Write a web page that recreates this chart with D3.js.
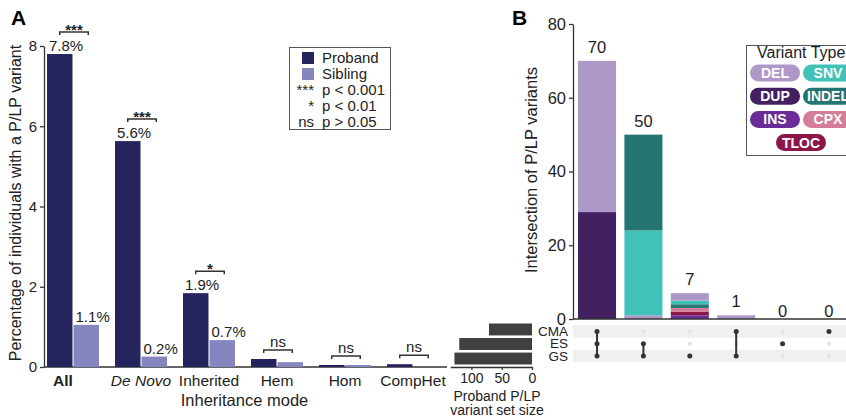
<!DOCTYPE html>
<html>
<head>
<meta charset="utf-8">
<script src="https://cdn.jsdelivr.net/npm/d3@7"></script>
<style>
  body { margin: 0; background: #fff; }
  svg { display: block; font-family: 'Liberation Sans', Arial, sans-serif; }
</style>
</head>
<body>
<script>
// panel A data
const modes = ['All', 'De Novo', 'Inherited', 'Hem', 'Hom', 'CompHet']
const probandPct = [7.8, 5.63, 1.84, 0.2, 0.05, 0.07]
const siblingPct = [1.05, 0.26, 0.67, 0.12, 0.05, 0]
const probandLabels = ['7.8%', '5.6%', '1.9%', '', '', '']
const siblingLabels = ['1.1%', '0.2%', '0.7%', '', '', '']
const signif = ['***', '***', '*', 'ns', 'ns', 'ns']
const pctTicks = [0, 2, 4, 6, 8]
const sigLegend = [['***', 'p < 0.001'], ['*', 'p < 0.01'], ['ns', 'p > 0.05']]

// panel B data
const sets = ['CMA', 'ES', 'GS']
const setSizes = [71, 120, 128]
const setSizeTicks = [0, 50, 100]
const intersections = [['CMA', 'ES', 'GS'], ['ES', 'GS'], ['GS'], ['CMA', 'GS'], ['ES'], ['CMA']]
const stackTypes = [['DUP', 'DEL'], ['DEL', 'SNV', 'INDEL'], ['INS', 'TLOC', 'CPX', 'INDEL', 'SNV', 'DEL'], ['DEL'], [], []]
const stackCounts = [[29, 41], [1, 23, 26], [1, 1, 1, 1, 1, 2], [1], [], []]
const countTicks = [0, 20, 40, 60, 80]

const variantTypes = ['DEL', 'SNV', 'DUP', 'INDEL', 'INS', 'CPX', 'TLOC']
const variantColors = ['#ae98c8', '#41c2b9', '#43205f', '#257572', '#6b2c97', '#d47c99', '#8b1649']

const width = 846
const height = 419
const ink = '#222'
const axisColor = '#333'

const svg = d3.select('body').append('svg')
  .attr('width', width)
  .attr('height', height)

const styleAxis = (g, size) => g
  .attr('font-family', null)
  .attr('font-size', size)
  .call(g => g.selectAll('path, line').attr('stroke', axisColor).attr('stroke-width', 1.3))
  .call(g => g.selectAll('text').attr('fill', ink))

// ---------- Panel A ----------
const xA = d3.scaleBand()
  .domain(modes)
  .range([43.6, 442.4])
  .paddingInner(0.235)
  .paddingOuter(0.05)

const xSub = d3.scaleBand()
  .domain(['proband', 'sibling'])
  .range([0, xA.bandwidth()])
  .paddingInner(0.04)

const yA = d3.scaleLinear()
  .domain([0, 8])
  .range([367, 46])

const groupColor = d3.scaleOrdinal()
  .domain(['proband', 'sibling'])
  .range(['#26245d', '#8585c0'])

const rowsA = modes.map((m, i) => ({
  mode: m,
  bars: [
    { key: 'proband', value: probandPct[i], label: probandLabels[i] },
    { key: 'sibling', value: siblingPct[i], label: siblingLabels[i] },
  ],
  sig: signif[i],
}))

svg.append('g')
  .attr('transform', 'translate(44,0)')
  .call(d3.axisLeft(yA).tickValues(pctTicks).tickSize(4).tickSizeOuter(0))
  .call(g => styleAxis(g, 15))

svg.append('g')
  .attr('transform', `translate(0,${yA(0)})`)
  .call(d3.axisBottom(xA).tickSize(0).tickPadding(8))
  .call(g => styleAxis(g, 15.5))
  .call(g => g.select('.domain').remove())
  .call(g => g.selectAll('.tick text')
    .attr('font-weight', d => (d === 'All' ? 'bold' : null))
    .attr('font-style', d => (d === 'De Novo' ? 'italic' : null))
    .attr('dx', d => (d === 'All' ? -10 : 0)))

svg.append('line')
  .attr('x1', 44)
  .attr('x2', 447)
  .attr('y1', yA(0))
  .attr('y2', yA(0))
  .attr('stroke', axisColor)
  .attr('stroke-width', 1.3)

const grp = svg.append('g')
  .selectAll('g')
  .data(rowsA)
  .join('g')
  .attr('transform', d => `translate(${xA(d.mode)},0)`)

grp.selectAll('rect')
  .data(d => d.bars)
  .join('rect')
  .attr('x', d => xSub(d.key))
  .attr('y', d => yA(d.value))
  .attr('width', xSub.bandwidth())
  .attr('height', d => yA(0) - yA(d.value))
  .attr('fill', d => groupColor(d.key))

grp.selectAll('text.pct')
  .data(d => d.bars.filter(b => b.label))
  .join('text')
  .attr('class', 'pct')
  .attr('x', d => xSub(d.key) + 2)
  .attr('y', d => yA(d.value) - 3)
  .attr('font-size', 15)
  .attr('fill', ink)
  .text(d => d.label)

// significance brackets
grp.each((d, i, nodes) => {
  const g = d3.select(nodes[i])
  const x1 = xSub('proband') + xSub.bandwidth() / 2
  const x2 = xSub('sibling') + xSub.bandwidth() / 2 + 2
  const labelled = d.bars.some(b => b.label)
  const top = yA(d3.max(d.bars, b => b.value)) - (labelled ? 22 : 9)
  g.append('path')
    .attr('d', `M${x1},${top + 3}V${top}H${x2}V${top + 3}`)
    .attr('fill', 'none')
    .attr('stroke', axisColor)
    .attr('stroke-width', 1.5)
  g.append('text')
    .attr('x', (x1 + x2) / 2)
    .attr('y', d.sig === 'ns' ? top - 3 : top + 3)
    .attr('text-anchor', 'middle')
    .attr('font-size', 15)
    .attr('font-weight', d.sig === 'ns' ? null : 'bold')
    .attr('fill', ink)
    .text(d.sig)
})

svg.append('text')
  .attr('transform', 'translate(21,203) rotate(-90)')
  .attr('text-anchor', 'middle')
  .attr('font-size', 16)
  .attr('fill', ink)
  .text('Percentage of individuals with a P/LP variant')

svg.append('text')
  .attr('x', 244.5)
  .attr('y', 406)
  .attr('text-anchor', 'middle')
  .attr('font-size', 16.5)
  .attr('fill', ink)
  .text('Inheritance mode')

// Legend A
const legA = svg.append('g')
legA.append('rect')
  .attr('x', 289.5)
  .attr('y', 47.5)
  .attr('width', 101)
  .attr('height', 82)
  .attr('fill', 'white')
  .attr('stroke', '#555')

legA.selectAll('rect.key')
  .data(groupColor.domain())
  .join('rect')
  .attr('class', 'key')
  .attr('x', 302)
  .attr('y', (d, i) => 52 + i * 16)
  .attr('width', 12)
  .attr('height', 12)
  .attr('fill', d => groupColor(d))

legA.selectAll('text.key')
  .data(['Proband', 'Sibling'])
  .join('text')
  .attr('class', 'key')
  .attr('x', 322)
  .attr('y', (d, i) => 63 + i * 16)
  .attr('font-size', 15)
  .attr('fill', ink)
  .text(d => d)

const sigRow = legA.selectAll('g.sig')
  .data(sigLegend)
  .join('g')
  .attr('class', 'sig')
  .attr('transform', (d, i) => `translate(0,${95 + i * 16})`)

sigRow.append('text')
  .attr('x', 314)
  .attr('text-anchor', 'end')
  .attr('font-size', 15)
  .attr('fill', ink)
  .text(d => d[0])

sigRow.append('text')
  .attr('x', 322)
  .attr('font-size', 15)
  .attr('fill', ink)
  .text(d => d[1])

svg.append('text')
  .attr('x', 11)
  .attr('y', 25)
  .attr('font-size', 21)
  .attr('font-weight', 'bold')
  .text('A')

// ---------- Panel B ----------
const xB = d3.scaleBand()
  .domain(d3.range(intersections.length))
  .range([573, 853])
  .paddingInner(0.18)
  .paddingOuter(0.108)

const yB = d3.scaleLinear()
  .domain([0, 80])
  .range([319, 24])

const typeColor = d3.scaleOrdinal()
  .domain(variantTypes)
  .range(variantColors)

const cols = intersections.map((s, i) => {
  let acc = 0
  const segs = stackTypes[i].map((t, j) => {
    const y0 = acc
    acc += stackCounts[i][j]
    return { type: t, y0, y1: acc }
  })
  return { i, sets: s, segs, total: acc }
})

svg.append('g')
  .attr('transform', 'translate(573,0)')
  .call(d3.axisLeft(yB).tickValues(countTicks).tickSize(4).tickSizeOuter(0))
  .call(g => styleAxis(g, 16.5))

const colG = svg.append('g')
  .selectAll('g')
  .data(cols)
  .join('g')
  .attr('transform', d => `translate(${xB(d.i)},0)`)

colG.selectAll('rect')
  .data(d => d.segs)
  .join('rect')
  .attr('x', 0)
  .attr('y', d => yB(d.y1))
  .attr('width', xB.bandwidth())
  .attr('height', d => yB(d.y0) - yB(d.y1))
  .attr('fill', d => typeColor(d.type))

colG.append('text')
  .attr('x', xB.bandwidth() / 2)
  .attr('y', d => (d.total > 0 ? yB(d.total) - 8 : yB(0) - 2))
  .attr('text-anchor', 'middle')
  .attr('font-size', 16.5)
  .attr('fill', ink)
  .text(d => d.total)

svg.append('line')
  .attr('x1', 573)
  .attr('x2', 846)
  .attr('y1', yB(0))
  .attr('y2', yB(0))
  .attr('stroke', axisColor)
  .attr('stroke-width', 1.3)

svg.append('text')
  .attr('transform', 'translate(537,170) rotate(-90)')
  .attr('text-anchor', 'middle')
  .attr('font-size', 16.5)
  .attr('fill', ink)
  .text('Intersection of P/LP variants')

svg.append('text')
  .attr('x', 512)
  .attr('y', 25)
  .attr('font-size', 21)
  .attr('font-weight', 'bold')
  .text('B')

// matrix
const rowY = d3.scalePoint()
  .domain(sets)
  .range([331.5, 356])

svg.append('g')
  .selectAll('rect')
  .data(sets.filter((s, i) => i % 2 === 0))
  .join('rect')
  .attr('x', 573)
  .attr('y', d => rowY(d) - 6.3)
  .attr('width', 273)
  .attr('height', 12.6)
  .attr('fill', '#f0f0f1')

svg.append('g')
  .selectAll('text')
  .data(sets)
  .join('text')
  .attr('x', 568)
  .attr('y', d => rowY(d))
  .attr('dy', '0.35em')
  .attr('text-anchor', 'end')
  .attr('font-size', 13.5)
  .attr('fill', ink)
  .text(d => d)

const mat = svg.append('g')
  .selectAll('g')
  .data(cols)
  .join('g')
  .attr('transform', d => `translate(${xB(d.i) + xB.bandwidth() / 2},0)`)

mat.selectAll('circle.off')
  .data(d => sets.filter(s => !d.sets.includes(s)))
  .join('circle')
  .attr('class', 'off')
  .attr('cy', d => rowY(d))
  .attr('r', 2.1)
  .attr('fill', '#e2e2e2')

mat.filter(d => d.sets.length > 1)
  .append('line')
  .attr('y1', d => d3.min(d.sets, s => rowY(s)))
  .attr('y2', d => d3.max(d.sets, s => rowY(s)))
  .attr('stroke', '#333')
  .attr('stroke-width', 2)

mat.selectAll('circle.on')
  .data(d => d.sets)
  .join('circle')
  .attr('class', 'on')
  .attr('cy', d => rowY(d))
  .attr('r', 2.5)
  .attr('fill', '#333')

// set sizes
const xS = d3.scaleLinear()
  .domain([0, 135])
  .range([532, 450.2])

const yS = d3.scaleBand()
  .domain(sets)
  .range([323.5, 364.5])
  .paddingInner(0.18)

svg.append('g')
  .selectAll('rect')
  .data(sets)
  .join('rect')
  .attr('x', (d, i) => xS(setSizes[i]))
  .attr('y', d => yS(d))
  .attr('width', (d, i) => xS(0) - xS(setSizes[i]))
  .attr('height', yS.bandwidth())
  .attr('fill', '#404040')

svg.append('g')
  .attr('transform', 'translate(0,367)')
  .call(d3.axisBottom(xS).tickValues(setSizeTicks).tickSize(3).tickSizeOuter(0))
  .call(g => styleAxis(g, 14))

svg.append('text')
  .attr('x', 497)
  .attr('y', 401)
  .attr('text-anchor', 'middle')
  .attr('font-size', 14)
  .attr('fill', ink)
  .selectAll('tspan')
  .data(['Proband P/LP', 'variant set size'])
  .join('tspan')
  .attr('x', 497)
  .attr('dy', (d, i) => (i ? 14 : 0))
  .text(d => d)

// Legend B
const legB = svg.append('g')
legB.append('rect')
  .attr('x', 746.5)
  .attr('y', 45.5)
  .attr('width', 120)
  .attr('height', 110)
  .attr('fill', 'white')
  .attr('stroke', '#555')

legB.append('text')
  .attr('x', 757)
  .attr('y', 58)
  .attr('font-size', 16)
  .attr('fill', ink)
  .text('Variant Type')

const pill = legB.selectAll('g.pill')
  .data(variantTypes)
  .join('g')
  .attr('class', 'pill')
  .attr('transform', (d, i) => {
    const x = i < 6 ? 750 + (i % 2) * 53 : 776
    const y = 73 + Math.floor(i / 2) * 23.2
    return `translate(${x},${y})`
  })

pill.append('rect')
  .attr('x', 0)
  .attr('y', -8.5)
  .attr('width', 50)
  .attr('height', 17)
  .attr('rx', 8.5)
  .attr('fill', d => typeColor(d))

pill.append('text')
  .attr('x', 25)
  .attr('dy', '0.36em')
  .attr('text-anchor', 'middle')
  .attr('font-size', 14)
  .attr('font-weight', 'bold')
  .attr('fill', 'white')
  .text(d => d)
</script>
</body>
</html>
